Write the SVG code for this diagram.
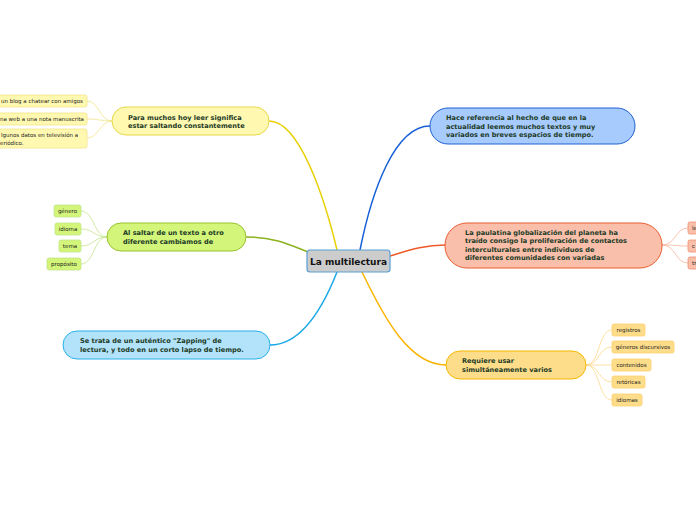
<svg xmlns="http://www.w3.org/2000/svg" width="696" height="520" viewBox="0 0 696 520">
<style>
.t{font-family:"DejaVu Sans",Verdana,sans-serif;font-weight:bold;font-size:6.6px;fill:#1d3b27}
.l{font-family:"DejaVu Sans",Verdana,sans-serif;font-size:5.5px;fill:#222}
.c{fill:none;stroke-width:1.5}
.lc{fill:none;stroke-width:0.8}
</style>
<rect width="696" height="520" fill="#fff"/>
<g id="connectors">
<path class="c" stroke="#e8cf00" d="M269,121 C300,121 325,200 337,250"/>
<path class="c" stroke="#1560d8" d="M360,250 C372,190 395,126 430,126"/>
<path class="c" stroke="#8cb21e" d="M246,237 C275,237 290,245 308,252"/>
<path class="c" stroke="#1aa8e8" d="M270,345 C300,345 322,310 337,272"/>
<path class="c" stroke="#f05a28" d="M390,256 C410,250 425,245 445,245"/>
<path class="c" stroke="#fbb400" d="M362,272 C385,320 410,365 446,365"/>
<g stroke="#f3e58a">
<path class="lc" d="M112,121 C100,121 99,101 87,101"/>
<path class="lc" d="M112,121 C100,121 99,119 87,119"/>
<path class="lc" d="M112,121 C100,121 99,138 87,138"/>
</g>
<g stroke="#c4e48a">
<path class="lc" d="M107,237 C94,237 94,211 81,211"/>
<path class="lc" d="M107,237 C94,237 94,229 81,229"/>
<path class="lc" d="M107,237 C94,237 94,246 81,246"/>
<path class="lc" d="M107,237 C94,237 94,264 81,264"/>
</g>
<g stroke="#f7b59c">
<path class="lc" d="M662,245 C676,245 675,228 688,228"/>
<path class="lc" d="M662,245 C676,245 675,246 688,246"/>
<path class="lc" d="M662,245 C676,245 675,263 688,263"/>
</g>
<g stroke="#fcd88a">
<path class="lc" d="M586,365 C600,365 598,330 612,330"/>
<path class="lc" d="M586,365 C600,365 598,347 612,347"/>
<path class="lc" d="M586,365 C600,365 598,365 612,365"/>
<path class="lc" d="M586,365 C600,365 598,382 612,382"/>
<path class="lc" d="M586,365 C600,365 598,400 612,400"/>
</g>
</g>
<g id="central">
<rect x="307" y="250" width="83" height="22" rx="3" fill="#cccccc" stroke="#5a9fd4" stroke-width="1.2"/>
<text x="348.5" y="264.5" text-anchor="middle" font-family="DejaVu Sans,Verdana,sans-serif" font-weight="bold" font-size="9" fill="#111">La multilectura</text>
</g>
<g id="n-para">
<rect x="112" y="107" width="157" height="28" rx="14" fill="#fff8b0" stroke="#e8d84a" stroke-width="1"/>
<text class="t" x="128" y="119.5">Para muchos hoy leer significa</text>
<text class="t" x="128" y="128">estar saltando constantemente</text>
</g>
<g id="leaf-y1">
<rect x="-30" y="95" width="117" height="12" rx="2" fill="#fff8b0" stroke="#f3e58a" stroke-width="0.8"/>
<text class="l" x="1" y="103">un blog a chatear con amigos</text>
</g>
<g id="leaf-y2">
<rect x="-30" y="113" width="117" height="12" rx="2" fill="#fff8b0" stroke="#f3e58a" stroke-width="0.8"/>
<text class="l" x="0" y="121">na web a una nota manuscrita</text>
</g>
<g id="leaf-y3">
<rect x="-30" y="129" width="117" height="19" rx="2" fill="#fff8b0" stroke="#f3e58a" stroke-width="0.8"/>
<text class="l" x="1" y="137">lgunos datos en televisión a</text>
<text class="l" x="0" y="144.5">eriódico.</text>
</g>
<g id="n-saltar">
<rect x="107" y="223" width="139" height="28" rx="14" fill="#d2f57a" stroke="#9ac22f" stroke-width="1"/>
<text class="t" x="123" y="235">Al saltar de un texto a otro</text>
<text class="t" x="123" y="243.5">diferente cambiamos de</text>
</g>
<g id="leaf-g1">
<rect x="54" y="205" width="27" height="12" rx="2" fill="#d2f57a" stroke="#c4e48a" stroke-width="0.8"/>
<text class="l" x="67.5" y="213" text-anchor="middle">género</text>
</g>
<g id="leaf-g2">
<rect x="55" y="223" width="26" height="12" rx="2" fill="#d2f57a" stroke="#c4e48a" stroke-width="0.8"/>
<text class="l" x="68" y="231" text-anchor="middle">idioma</text>
</g>
<g id="leaf-g3">
<rect x="59" y="240" width="22" height="12" rx="2" fill="#d2f57a" stroke="#c4e48a" stroke-width="0.8"/>
<text class="l" x="70" y="248" text-anchor="middle">tema</text>
</g>
<g id="leaf-g4">
<rect x="47" y="258" width="34" height="12" rx="2" fill="#d2f57a" stroke="#c4e48a" stroke-width="0.8"/>
<text class="l" x="64" y="266" text-anchor="middle">propósito</text>
</g>
<g id="n-zapping">
<rect x="63" y="331" width="207" height="28" rx="14" fill="#b3e3fa" stroke="#2ab0ea" stroke-width="1"/>
<text class="t" x="80" y="343">Se trata de un auténtico "Zapping" de</text>
<text class="t" x="80" y="351.5">lectura, y todo en un corto lapso de tiempo.</text>
</g>
<g id="n-hace">
<rect x="430" y="108" width="205" height="36" rx="18" fill="#a8cbfd" stroke="#2060d0" stroke-width="1"/>
<text class="t" x="446" y="120">Hace referencia al hecho de que en la</text>
<text class="t" x="446" y="128.5">actualidad leemos muchos textos y muy</text>
<text class="t" x="446" y="137">variados en breves espacios de tiempo.</text>
</g>
<g id="n-global">
<rect x="445" y="223" width="217" height="45" rx="22" fill="#f9bfaa" stroke="#e85c30" stroke-width="1"/>
<text class="t" x="465" y="234.5">La paulatina globalización del planeta ha</text>
<text class="t" x="465" y="243">traído consigo la proliferación de contactos</text>
<text class="t" x="465" y="251.5">interculturales entre individuos de</text>
<text class="t" x="465" y="260">diferentes comunidades con variadas</text>
</g>
<g id="leaf-o1">
<rect x="688" y="222" width="30" height="12" rx="2" fill="#f9bfaa" stroke="#f09070" stroke-width="0.8"/>
<text class="l" x="692" y="230">le</text>
</g>
<g id="leaf-o2">
<rect x="688" y="240" width="30" height="12" rx="2" fill="#f9bfaa" stroke="#f09070" stroke-width="0.8"/>
<text class="l" x="692" y="248">c</text>
</g>
<g id="leaf-o3">
<rect x="688" y="257" width="30" height="12" rx="2" fill="#f9bfaa" stroke="#f09070" stroke-width="0.8"/>
<text class="l" x="692" y="265">tr</text>
</g>
<g id="n-requiere">
<rect x="446" y="351" width="140" height="28" rx="14" fill="#fedd8a" stroke="#f5b800" stroke-width="1"/>
<text class="t" x="462" y="363">Requiere usar</text>
<text class="t" x="462" y="371.5">simultáneamente varios</text>
</g>
<g id="leaf-r1">
<rect x="612" y="324" width="33" height="12" rx="2" fill="#fedd8a" stroke="#fbd070" stroke-width="0.8"/>
<text class="l" x="628.5" y="332" text-anchor="middle">registros</text>
</g>
<g id="leaf-r2">
<rect x="612" y="341" width="62" height="12" rx="2" fill="#fedd8a" stroke="#fbd070" stroke-width="0.8"/>
<text class="l" x="643" y="349" text-anchor="middle">géneros discursivos</text>
</g>
<g id="leaf-r3">
<rect x="612" y="359" width="39" height="12" rx="2" fill="#fedd8a" stroke="#fbd070" stroke-width="0.8"/>
<text class="l" x="631.5" y="367" text-anchor="middle">contenidos</text>
</g>
<g id="leaf-r4">
<rect x="612" y="376" width="33" height="12" rx="2" fill="#fedd8a" stroke="#fbd070" stroke-width="0.8"/>
<text class="l" x="628.5" y="384" text-anchor="middle">retóricas</text>
</g>
<g id="leaf-r5">
<rect x="612" y="394" width="30" height="12" rx="2" fill="#fedd8a" stroke="#fbd070" stroke-width="0.8"/>
<text class="l" x="627" y="402" text-anchor="middle">idiomas</text>
</g>
</svg>
